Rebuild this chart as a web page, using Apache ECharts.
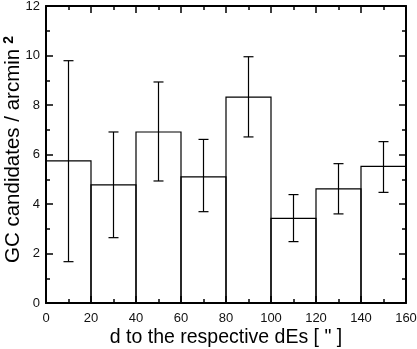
<!DOCTYPE html>
<html>
<head>
<meta charset="utf-8">
<script src="https://cdn.jsdelivr.net/npm/echarts@6/dist/echarts.min.js"></script>
<style>
  html, body { margin: 0; padding: 0; background: #fff; }
  #chart { width: 417px; height: 349px; }
</style>
</head>
<body>
<div id="chart"></div>
<script>
// bin edges (arcsec) and measured densities
const binStarts = [0, 20, 40, 60, 80, 100, 120, 140];
const binWidth = 20;
const density = [5.74, 4.77, 6.91, 5.10, 8.32, 3.42, 4.61, 5.52];
const errUpper = [9.79, 6.91, 8.93, 6.61, 9.95, 4.38, 5.63, 6.52];
const errLower = [1.67, 2.64, 4.93, 3.69, 6.71, 2.48, 3.60, 4.47];

const font = 'Liberation Sans, Arial, Helvetica, sans-serif';

const chart = echarts.init(document.getElementById('chart'));

const barData = binStarts.map((x, i) => [x, x + binWidth, density[i]]);
const errData = binStarts.map((x, i) => [x + binWidth / 2, errLower[i], errUpper[i]]);

function axisCommon(show, margin) {
  return {
    axisLine: { show: true, onZero: false, lineStyle: { color: '#000', width: 2 } },
    axisTick: { show: true, inside: true, length: 7, lineStyle: { color: '#000', width: 1.5 } },
    minorTick: { show: true, splitNumber: 2, length: 4, lineStyle: { color: '#000', width: 1.5 } },
    splitLine: { show: false },
    axisLabel: { show: show, color: '#111', fontFamily: font, fontSize: 13, margin: margin }
  };
}

chart.setOption({
  animation: false,
  backgroundColor: '#fff',
  grid: { left: 46, right: 11, top: 6, bottom: 46, containLabel: false, outerBoundsMode: 'none' },
  xAxis: [
    Object.assign({
      type: 'value', min: 0, max: 160, interval: 20, position: 'bottom',
      name: 'd to the respective dEs [ " ]',
      nameLocation: 'middle', nameGap: 25, nameMoveOverlap: false,
      nameTextStyle: { color: '#000', fontFamily: font, fontSize: 19.5 }
    }, axisCommon(true, 9)),
    Object.assign({ type: 'value', min: 0, max: 160, interval: 20, position: 'top' }, axisCommon(false, 8))
  ],
  yAxis: [
    Object.assign({
      type: 'value', min: 0, max: 12, interval: 2, position: 'left',
      name: 'GC candidates / arcmin{s|2}',
      nameLocation: 'middle', nameGap: 21, nameMoveOverlap: false,
      nameTextStyle: {
        color: '#000', fontFamily: font, fontSize: 20.5, lineHeight: 23,
        padding: [0, 0, 0, 10],
        rich: { s: { fontSize: 14, fontWeight: 'bold', fontFamily: font, verticalAlign: 'top', lineHeight: 13, padding: [0, 0, 0, 5] } }
      }
    }, axisCommon(true, 6)),
    Object.assign({ type: 'value', min: 0, max: 12, interval: 2, position: 'right' }, axisCommon(false, 8))
  ],
  series: [
    {
      type: 'custom',
      xAxisIndex: 0,
      yAxisIndex: 0,
      data: barData,
      encode: { x: [0, 1], y: 2 },
      renderItem: function (params, api) {
        const p0 = api.coord([api.value(0), api.value(2)]);
        const p1 = api.coord([api.value(1), 0]);
        return {
          type: 'rect',
          shape: { x: p0[0], y: p0[1], width: p1[0] - p0[0], height: p1[1] - p0[1] },
          style: { fill: 'none', stroke: '#000', lineWidth: 1.2 }
        };
      }
    },
    {
      type: 'custom',
      xAxisIndex: 0,
      yAxisIndex: 0,
      data: errData,
      encode: { x: 0, y: [1, 2] },
      z: 3,
      renderItem: function (params, api) {
        const lo = api.coord([api.value(0), api.value(1)]);
        const hi = api.coord([api.value(0), api.value(2)]);
        const cap = 5;
        const st = { stroke: '#000', lineWidth: 1.2 };
        return {
          type: 'group',
          children: [
            { type: 'line', shape: { x1: lo[0], y1: lo[1], x2: hi[0], y2: hi[1] }, style: st },
            { type: 'line', shape: { x1: lo[0] - cap, y1: lo[1], x2: lo[0] + cap, y2: lo[1] }, style: st },
            { type: 'line', shape: { x1: hi[0] - cap, y1: hi[1], x2: hi[0] + cap, y2: hi[1] }, style: st }
          ]
        };
      }
    }
  ]
});
</script>
</body>
</html>
